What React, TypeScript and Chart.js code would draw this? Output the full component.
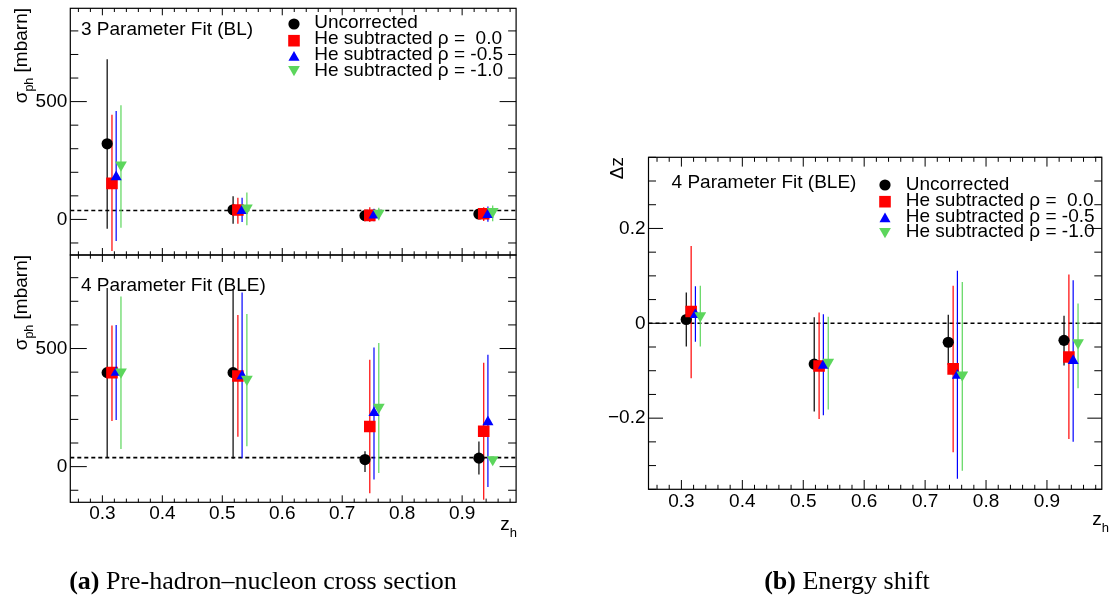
import React, { useEffect, useRef } from 'react';
import { Chart, registerables } from 'chart.js';
Chart.register(...registerables);

const FONT = "'Liberation Sans', Arial, Helvetica, sans-serif";

// ---------- data ----------
const X_TICKS = [0.3, 0.4, 0.5, 0.6, 0.7, 0.8, 0.9];
const SIGMA_TICKS = [0, 500];
const DZ_TICKS = [-0.2, 0, 0.2];

const LABELS = ['Uncorrected', 'He subtracted \u03C1 =  0.0', 'He subtracted \u03C1 = -0.5', 'He subtracted \u03C1 = -1.0'];

// z_h positions of each series
const Z_UNC = [0.308, 0.518, 0.738, 0.928];
const Z_R00 = [0.316, 0.526, 0.746, 0.936];
const Z_R05 = [0.323, 0.533, 0.753, 0.943];
const Z_R10 = [0.331, 0.541, 0.761, 0.951];

// 3 parameter fit (BL), sigma_ph [mbarn]
const BL_UNC = [321, 41, 16, 23];
const BL_UNC_HI = [680, 98, 26, 33];
const BL_UNC_LO = [-40, -18, 6, 13];
const BL_R00 = [153, 40, 17, 24];
const BL_R00_HI = [444, 92, 52, 52];
const BL_R00_LO = [-134, -18, -11, -7];
const BL_R05 = [180, 37, 17, 20];
const BL_R05_HI = [460, 92, 45, 55];
const BL_R05_LO = [-92, -11, -8, -10];
const BL_R10 = [231, 49, 27, 34];
const BL_R10_HI = [485, 114, 50, 59];
const BL_R10_LO = [-35, -25, -4, -8];

// 4 parameter fit (BLE), sigma_ph [mbarn]
const BLE_UNC = [398, 398, 30, 36];
const BLE_UNC_HI = [756, 752, 65, 106];
const BLE_UNC_LO = [40, 33, -23, -33];
const BLE_R00 = [398, 384, 170, 150];
const BLE_R00_HI = [598, 642, 453, 440];
const BLE_R00_LO = [193, 126, -113, -140];
const BLE_R05 = [398, 384, 228, 189];
const BLE_R05_HI = [600, 737, 504, 474];
const BLE_R05_LO = [197, 35, -54, -86];
const BLE_R10 = [401, 370, 252, 30];
const BLE_R10_HI = [720, 646, 523, 36];
const BLE_R10_LO = [75, 86, -27, 24];

// 4 parameter fit (BLE), energy shift Delta z
const DZ_UNC = [0.008, -0.086, -0.040, -0.036];
const DZ_UNC_HI = [0.065, 0.013, 0.018, 0.016];
const DZ_UNC_LO = [-0.049, -0.186, -0.088, -0.089];
const DZ_R00 = [0.025, -0.090, -0.096, -0.071];
const DZ_R00_HI = [0.163, 0.023, 0.079, 0.103];
const DZ_R00_LO = [-0.116, -0.202, -0.272, -0.244];
const DZ_R05 = [0.018, -0.089, -0.110, -0.079];
const DZ_R05_HI = [0.078, 0.019, 0.111, 0.091];
const DZ_R05_LO = [-0.039, -0.194, -0.328, -0.250];
const DZ_R10 = [0.016, -0.082, -0.109, -0.041];
const DZ_R10_HI = [0.079, 0.014, 0.087, 0.042];
const DZ_R10_LO = [-0.049, -0.182, -0.311, -0.137];

const SIGMA_REF = 38;
const DZ_REF = 0;

// ---------- styles ----------
const COLORS = ['#000000', '#ff0000', '#0000ff', '#5cd65c'];
const STYLES = [
  { pointStyle: 'circle', radius: 5.6, rotation: 0 },
  { pointStyle: 'rect', radius: 8.2, rotation: 0 },
  { pointStyle: 'triangle', radius: 6.4, rotation: 0 },
  { pointStyle: 'triangle', radius: 6.8, rotation: 180 },
];

function makeDatasets(xs: number[][], ys: number[][], his: number[][], los: number[][]) {
  return ys.map((yv, s) => ({
    label: LABELS[s],
    data: yv.map((y, i) => ({ x: xs[s][i], y })),
    errHi: his[s],
    errLo: los[s],
    backgroundColor: COLORS[s],
    borderColor: COLORS[s],
    pointStyle: STYLES[s].pointStyle,
    pointRadius: STYLES[s].radius,
    pointHoverRadius: STYLES[s].radius,
    pointRotation: STYLES[s].rotation,
    pointBorderWidth: 0,
    showLine: false,
    order: 3 - s,
  }));
}

function drawMarker(ctx: CanvasRenderingContext2D, s: number, x: number, y: number) {
  const st = STYLES[s];
  const r = st.radius;
  ctx.save();
  ctx.fillStyle = COLORS[s];
  ctx.beginPath();
  if (st.pointStyle === 'circle') {
    ctx.arc(x, y, r, 0, Math.PI * 2);
  } else if (st.pointStyle === 'rect') {
    const h = Math.SQRT1_2 * r;
    ctx.rect(x - h, y - h, 2 * h, 2 * h);
  } else {
    let rad = (st.rotation * Math.PI) / 180;
    for (let k = 0; k < 3; k++) {
      const px = x + Math.sin(rad) * r;
      const py = y - Math.cos(rad) * r;
      if (k === 0) ctx.moveTo(px, py);
      else ctx.lineTo(px, py);
      rad += (2 * Math.PI) / 3;
    }
    ctx.closePath();
  }
  ctx.fill();
  ctx.restore();
}

type Part = { t: string; size: number; dy: number };

function partsWidth(ctx: CanvasRenderingContext2D, parts: Part[]) {
  let w = 0;
  for (const p of parts) {
    ctx.font = `${p.size}px ${FONT}`;
    w += ctx.measureText(p.t).width;
  }
  return w;
}

function drawParts(ctx: CanvasRenderingContext2D, parts: Part[], x: number, y: number) {
  let cx = x;
  for (const p of parts) {
    ctx.font = `${p.size}px ${FONT}`;
    ctx.fillText(p.t, cx, y + p.dy);
    cx += ctx.measureText(p.t).width;
  }
}

type PanelCfg = {
  area: { left: number; top: number; right: number; bottom: number };
  xMin: number; xMax: number; yMin: number; yMax: number;
  yTicks: number[];
  yStep: number; yPer: number;
  xMajorLen: number; xMinorLen: number; yMajorLen: number; yMinorLen: number;
  refY: number;
  showX: boolean;
  xPad: number;
  yFmt: (v: number) => string;
  label: { text: string; x: number; y: number };
  legend?: { mx: number; tx: number; my: number[]; ty: number[] };
  yTitle: { parts: Part[]; x: number; yEnd: number };
  xTitle?: { right: number; y: number };
  datasets: any[];
};

function makePlugin(cfg: PanelCfg) {
  return {
    id: 'rootStyle',
    beforeDatasetsDraw(chart: any) {
      const { ctx, chartArea: a } = chart;
      const xs = chart.scales.x;
      const ys = chart.scales.y;
      ctx.save();
      ctx.beginPath();
      ctx.rect(a.left, a.top, a.right - a.left, a.bottom - a.top);
      ctx.clip();
      // reference dashed line
      const yr = ys.getPixelForValue(cfg.refY);
      ctx.strokeStyle = '#000';
      ctx.lineWidth = 1.6;
      ctx.setLineDash([4, 3]);
      ctx.beginPath();
      ctx.moveTo(a.left, yr);
      ctx.lineTo(a.right, yr);
      ctx.stroke();
      ctx.setLineDash([]);
      // error bars
      chart.data.datasets.forEach((ds: any, s: number) => {
        ctx.strokeStyle = COLORS[s];
        ctx.lineWidth = 1.2;
        ds.data.forEach((pt: any, i: number) => {
          const px = xs.getPixelForValue(pt.x);
          ctx.beginPath();
          ctx.moveTo(px, ys.getPixelForValue(ds.errHi[i]));
          ctx.lineTo(px, ys.getPixelForValue(ds.errLo[i]));
          ctx.stroke();
        });
      });
      ctx.restore();
    },
    afterDatasetsDraw(chart: any) {
      const { ctx, chartArea: a } = chart;
      const xs = chart.scales.x;
      const ys = chart.scales.y;
      ctx.save();
      ctx.strokeStyle = '#000';
      ctx.fillStyle = '#000';
      ctx.lineWidth = 1.2;
      ctx.strokeRect(a.left, a.top, a.right - a.left, a.bottom - a.top);
      ctx.lineWidth = 1;
      ctx.beginPath();
      // x ticks (step 0.02, major every 0.1)
      for (let k = Math.ceil(cfg.xMin * 50 - 1e-9); k <= Math.floor(cfg.xMax * 50 + 1e-9); k++) {
        const v = k / 50;
        const len = k % 5 === 0 ? cfg.xMajorLen : cfg.xMinorLen;
        const px = xs.getPixelForValue(v);
        ctx.moveTo(px, a.bottom);
        ctx.lineTo(px, a.bottom - len);
        ctx.moveTo(px, a.top);
        ctx.lineTo(px, a.top + len);
      }
      // y ticks
      for (let k = Math.ceil(cfg.yMin / cfg.yStep - 1e-9); k <= Math.floor(cfg.yMax / cfg.yStep + 1e-9); k++) {
        const v = k * cfg.yStep;
        const len = Math.abs(k) % cfg.yPer === 0 ? cfg.yMajorLen : cfg.yMinorLen;
        const py = ys.getPixelForValue(v);
        ctx.moveTo(a.left, py);
        ctx.lineTo(a.left + len, py);
        ctx.moveTo(a.right, py);
        ctx.lineTo(a.right - len, py);
      }
      ctx.stroke();

      // in-plot label
      ctx.textBaseline = 'alphabetic';
      ctx.textAlign = 'left';
      ctx.font = `19px ${FONT}`;
      ctx.fillText(cfg.label.text, cfg.label.x, cfg.label.y);

      // legend
      if (cfg.legend) {
        const L = cfg.legend;
        chart.data.datasets.forEach((ds: any, s: number) => {
          drawMarker(ctx, s, L.mx, L.my[s]);
          ctx.fillStyle = '#000';
          ctx.font = `19px ${FONT}`;
          ctx.fillText(ds.label, L.tx, L.ty[s]);
        });
      }

      // y title (rotated)
      const T = cfg.yTitle;
      const w = partsWidth(ctx, T.parts);
      ctx.save();
      ctx.translate(T.x, T.yEnd + w);
      ctx.rotate(-Math.PI / 2);
      ctx.fillStyle = '#000';
      drawParts(ctx, T.parts, 0, 0);
      ctx.restore();

      // x title
      if (cfg.xTitle) {
        const parts: Part[] = [
          { t: 'z', size: 19, dy: 0 },
          { t: 'h', size: 13, dy: 6.5 },
        ];
        const wx = partsWidth(ctx, parts);
        ctx.fillStyle = '#000';
        drawParts(ctx, parts, cfg.xTitle.right - wx, cfg.xTitle.y);
      }
      ctx.restore();
    },
  };
}

function Panel({ cfg }: { cfg: PanelCfg }) {
  const ref = useRef<HTMLCanvasElement>(null);
  useEffect(() => {
    const W = 1110;
    const H = 600;
    const a = cfg.area;
    const xAxisH = 40;
    const yAxisW = 60;
    const chart = new Chart(ref.current as HTMLCanvasElement, {
      type: 'scatter',
      data: { datasets: cfg.datasets },
      plugins: [makePlugin(cfg)],
      options: {
        animation: false,
        responsive: false,
        events: [],
        layout: {
          padding: {
            left: a.left - yAxisW,
            right: W - a.right,
            top: a.top,
            bottom: H - a.bottom - xAxisH,
          },
        },
        plugins: { legend: { display: false }, tooltip: { enabled: false } },
        scales: {
          x: {
            type: 'linear',
            min: cfg.xMin,
            max: cfg.xMax,
            display: true,
            grid: { display: false, drawTicks: false, tickLength: 0 },
            border: { display: false },
            ticks: {
              display: cfg.showX,
              color: '#000',
              font: { family: FONT, size: 19 },
              padding: cfg.xPad,
              maxRotation: 0,
              autoSkip: false,
              callback: (v: any) => Number(v).toFixed(1),
            },
            afterBuildTicks: (s: any) => {
              s.ticks = X_TICKS.map((v) => ({ value: v }));
            },
            afterFit: (s: any) => {
              s.height = xAxisH;
              s.paddingLeft = 0;
              s.paddingRight = 0;
              s.paddingTop = 0;
              s.paddingBottom = 0;
            },
          },
          y: {
            type: 'linear',
            min: cfg.yMin,
            max: cfg.yMax,
            grid: { display: false, drawTicks: false, tickLength: 0 },
            border: { display: false },
            ticks: {
              color: '#000',
              font: { family: FONT, size: 19 },
              padding: 3,
              autoSkip: false,
              callback: (v: any) => cfg.yFmt(Number(v)),
            },
            afterBuildTicks: (s: any) => {
              s.ticks = cfg.yTicks.map((v) => ({ value: v }));
            },
            afterFit: (s: any) => {
              s.width = yAxisW;
              s.paddingLeft = 0;
              s.paddingRight = 0;
              s.paddingTop = 0;
              s.paddingBottom = 0;
            },
          },
        },
      } as any,
    });
    return () => chart.destroy();
  }, []);
  return (
    <canvas
      ref={ref}
      width={1110}
      height={600}
      style={{ position: 'absolute', left: 0, top: 0, width: 1110, height: 600 }}
    />
  );
}

const sigmaFmt = (v: number) => String(Math.round(v));
const dzFmt = (v: number) => (Math.abs(v) < 1e-9 ? '0' : (v < 0 ? '\u2212' : '') + Math.abs(v).toFixed(1));

const SIGMA_TITLE: Part[] = [
  { t: '\u03C3', size: 19, dy: 0 },
  { t: 'ph', size: 12.5, dy: 6 },
  { t: ' [mbarn]', size: 19, dy: 0 },
];

const LEFT_COMMON = {
  xMin: 0.2465, xMax: 0.99, yMin: -151, yMax: 896,
  yTicks: SIGMA_TICKS, yStep: 100, yPer: 5,
  xMajorLen: 7, xMinorLen: 3.7, yMajorLen: 16.5, yMinorLen: 8,
  refY: SIGMA_REF, yFmt: sigmaFmt, xPad: 0,
};

const PANEL_BL: PanelCfg = {
  ...LEFT_COMMON,
  area: { left: 70.3, top: 8.3, right: 516.1, bottom: 255 },
  showX: false,
  label: { text: '3 Parameter Fit (BL)', x: 81, y: 35 },
  legend: { mx: 294, tx: 314.3, my: [24, 40.7, 57.5, 69.5], ty: [28.3, 44.3, 60.3, 76.3] },
  yTitle: { parts: SIGMA_TITLE, x: 27, yEnd: 8 },
  datasets: makeDatasets(
    [Z_UNC, Z_R00, Z_R05, Z_R10],
    [BL_UNC, BL_R00, BL_R05, BL_R10],
    [BL_UNC_HI, BL_R00_HI, BL_R05_HI, BL_R10_HI],
    [BL_UNC_LO, BL_R00_LO, BL_R05_LO, BL_R10_LO],
  ),
};

const PANEL_BLE: PanelCfg = {
  ...LEFT_COMMON,
  area: { left: 70.3, top: 255, right: 516.1, bottom: 502.3 },
  showX: true,
  label: { text: '4 Parameter Fit (BLE)', x: 81, y: 291 },
  yTitle: { parts: SIGMA_TITLE, x: 27, yEnd: 255 },
  xTitle: { right: 517, y: 530 },
  datasets: makeDatasets(
    [Z_UNC, Z_R00, Z_R05, Z_R10],
    [BLE_UNC, BLE_R00, BLE_R05, BLE_R10],
    [BLE_UNC_HI, BLE_R00_HI, BLE_R05_HI, BLE_R10_HI],
    [BLE_UNC_LO, BLE_R00_LO, BLE_R05_LO, BLE_R10_LO],
  ),
};

const PANEL_DZ: PanelCfg = {
  area: { left: 648.5, top: 157.3, right: 1108.7, bottom: 489.3 },
  xMin: 0.246, xMax: 0.99, yMin: -0.35, yMax: 0.35,
  yTicks: DZ_TICKS, yStep: 0.05, yPer: 4,
  xMajorLen: 9.3, xMinorLen: 4.5, yMajorLen: 14.5, yMinorLen: 7.5,
  refY: DZ_REF, yFmt: dzFmt, xPad: 1,
  showX: true,
  label: { text: '4 Parameter Fit (BLE)', x: 671.6, y: 188 },
  legend: { mx: 885, tx: 905.8, my: [185, 201.7, 219, 231.5], ty: [190, 205.8, 221.6, 237.4] },
  yTitle: { parts: [{ t: '\u0394z', size: 19, dy: 0 }], x: 623, yEnd: 157 },
  xTitle: { right: 1109, y: 525 },
  datasets: makeDatasets(
    [Z_UNC, Z_R00, Z_R05, Z_R10],
    [DZ_UNC, DZ_R00, DZ_R05, DZ_R10],
    [DZ_UNC_HI, DZ_R00_HI, DZ_R05_HI, DZ_R10_HI],
    [DZ_UNC_LO, DZ_R00_LO, DZ_R05_LO, DZ_R10_LO],
  ),
};

const CAPTION_FONT = "26px 'Liberation Serif', 'Times New Roman', Times, serif";

export default function App() {
  useEffect(() => {
    document.body.style.margin = '0';
  }, []);
  return (
    <div style={{ position: 'relative', width: 1110, height: 600, background: '#fff', overflow: 'hidden' }}>
      <Panel cfg={PANEL_BL} />
      <Panel cfg={PANEL_BLE} />
      <Panel cfg={PANEL_DZ} />
      <div style={{ position: 'absolute', left: 0, top: 566, width: 526, textAlign: 'center', font: CAPTION_FONT, lineHeight: '30px', color: '#000' }}>
        <b>(a)</b> Pre-hadron–nucleon cross section
      </div>
      <div style={{ position: 'absolute', left: 647, top: 566, width: 400, textAlign: 'center', font: CAPTION_FONT, lineHeight: '30px', color: '#000' }}>
        <b>(b)</b> Energy shift
      </div>
    </div>
  );
}
